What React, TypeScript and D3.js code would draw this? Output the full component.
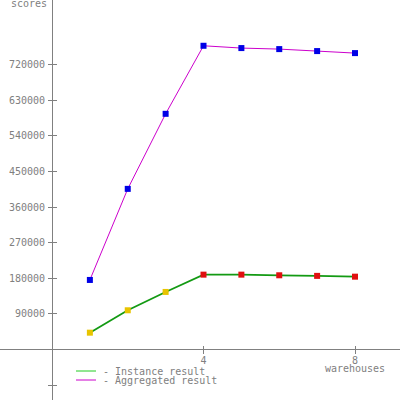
import React from "react";
import * as d3 from "d3";

const warehouses = [1, 2, 3, 4, 5, 6, 7, 8];
const aggregated = [175700, 405800, 595400, 767300, 761500, 758900, 753900, 748800];
const instance = [42500, 99100, 145400, 189100, 189100, 187500, 186000, 184000];
const yTicks = [90000, 180000, 270000, 360000, 450000, 540000, 630000, 720000];
const xTicks = [4, 8];

const W = 400, H = 400;
const font = "DejaVu Sans Mono";
const gray = "#808080";

export default function App() {
  const x = d3.scaleLinear().domain([0, 8]).range([52, 355]);
  const y = d3.scaleLinear().domain([0, 720000]).range([349.5, 64.5]);
  const line = d3.line<number>().x((_, i) => x(warehouses[i])).y((d) => y(d));
  const ax = x(0);
  const ay = y(0);
  return (
    <svg width={W} height={H} style={{ position: "absolute", left: 0, top: 0, background: "#fff" }}>
      <rect width={W} height={H} fill="#fff" />
      {/* axes */}
      <line x1={ax} x2={ax} y1={0} y2={H} stroke={gray} strokeWidth={1} shapeRendering="crispEdges" />
      <line x1={0} x2={W} y1={ay} y2={ay} stroke={gray} strokeWidth={1} shapeRendering="crispEdges" />
      {yTicks.map((t) => (
        <g key={t}>
          <line x1={ax - 4} x2={ax + 5} y1={y(t)} y2={y(t)} stroke={gray} shapeRendering="crispEdges" />
          <text x={45} y={y(t) + 3.5} textAnchor="end" fontFamily={font} fontSize={10} fill={gray}>{t}</text>
        </g>
      ))}
      <line x1={ax - 4} x2={ax + 5} y1={y(-90000)} y2={y(-90000)} stroke={gray} shapeRendering="crispEdges" />
      {xTicks.map((t) => (
        <g key={t}>
          <line x1={x(t)} x2={x(t)} y1={ay - 4} y2={ay + 4} stroke={gray} shapeRendering="crispEdges" />
          <text x={x(t)} y={364} textAnchor="middle" fontFamily={font} fontSize={10} fill={gray}>{t}</text>
        </g>
      ))}
      <text x={x(8)} y={372} textAnchor="middle" fontFamily={font} fontSize={10} fill={gray}>warehouses</text>
      <text x={47} y={7} textAnchor="end" fontFamily={font} fontSize={10} fill={gray}>scores</text>
      {/* series */}
      <path d={line(aggregated) || ""} fill="none" stroke="#cc00cc" strokeWidth={1} />
      <path d={line(instance) || ""} fill="none" stroke="#139a13" strokeWidth={1.8} />
      {aggregated.map((v, i) => (
        <rect key={"a" + i} x={x(warehouses[i]) - 3} y={y(v) - 3} width={6} height={6} fill="#0000e6" />
      ))}
      {instance.map((v, i) => (
        <rect key={"b" + i} x={x(warehouses[i]) - 3} y={y(v) - 3} width={6} height={6} fill={warehouses[i] < 4 ? "#e8c400" : "#e01010"} />
      ))}
      {/* legend */}
      <line x1={76} x2={96} y1={371} y2={371} stroke="#22cc22" strokeWidth={1} />
      <text x={103} y={375} fontFamily={font} fontSize={10} fill={gray}>- Instance result</text>
      <line x1={76} x2={96} y1={380} y2={380} stroke="#cc00cc" strokeWidth={1} />
      <text x={103} y={384} fontFamily={font} fontSize={10} fill={gray}>- Aggregated result</text>
    </svg>
  );
}
